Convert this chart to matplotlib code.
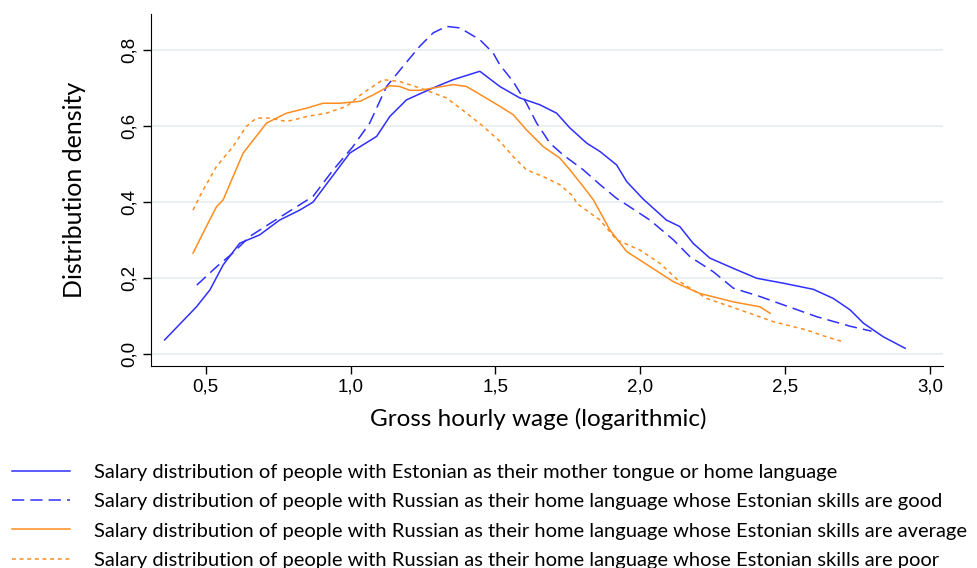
"""
Wage density curves by home language and Estonian skills
"""

import matplotlib
matplotlib.use("Agg")
from matplotlib import pyplot
from matplotlib.ticker import FuncFormatter

# Estonian as mother tongue / home language
estX = [0.358, 0.468, 0.514, 0.56, 0.617, 0.686, 0.755, 0.824, 0.87, 0.997, 1.09, 1.135,
        1.193, 1.284, 1.354, 1.446, 1.515, 1.584, 1.653, 1.711, 1.757, 1.815, 1.861, 1.918,
        1.953, 2.01, 2.09, 2.136, 2.182, 2.24, 2.321, 2.402, 2.494, 2.597, 2.666, 2.724,
        2.77, 2.839, 2.914]
estY = [0.038, 0.125, 0.169, 0.235, 0.292, 0.314, 0.353, 0.379, 0.40, 0.529, 0.573, 0.625,
        0.669, 0.70, 0.722, 0.744, 0.704, 0.674, 0.656, 0.634, 0.595, 0.555, 0.533, 0.498,
        0.454, 0.408, 0.353, 0.336, 0.292, 0.253, 0.226, 0.20, 0.187, 0.171, 0.147, 0.117,
        0.082, 0.046, 0.016]

# Russian home language, Estonian skills good
goodX = [0.469, 0.537, 0.593, 0.652, 0.732, 0.824, 0.87, 0.94, 1.008, 1.066, 1.124, 1.181,
         1.239, 1.285, 1.331, 1.377, 1.446, 1.492, 1.515, 1.561, 1.607, 1.642, 1.688, 1.734,
         1.803, 1.861, 1.918, 1.953, 2.033, 2.114, 2.171, 2.252, 2.321, 2.413, 2.494, 2.609,
         2.724, 2.798]
goodY = [0.182, 0.23, 0.266, 0.31, 0.349, 0.393, 0.415, 0.485, 0.546, 0.608, 0.704, 0.757,
         0.81, 0.845, 0.862, 0.858, 0.827, 0.792, 0.761, 0.717, 0.66, 0.608, 0.555, 0.524,
         0.485, 0.446, 0.41, 0.393, 0.353, 0.301, 0.257, 0.217, 0.174, 0.152, 0.13, 0.099,
         0.074, 0.061]

# Russian home language, Estonian skills average
avgX = [0.456, 0.502, 0.537, 0.56, 0.629, 0.71, 0.779, 0.848, 0.905, 0.963, 1.032, 1.078,
        1.135, 1.17, 1.204, 1.239, 1.285, 1.354, 1.4, 1.458, 1.515, 1.561, 1.607, 1.665,
        1.722, 1.757, 1.803, 1.838, 1.895, 1.953, 2.033, 2.114, 2.206, 2.321, 2.413, 2.448]
avgY = [0.266, 0.336, 0.388, 0.406, 0.529, 0.608, 0.634, 0.647, 0.66, 0.66, 0.665, 0.682,
        0.706, 0.704, 0.694, 0.694, 0.70, 0.709, 0.704, 0.678, 0.652, 0.63, 0.59, 0.546,
        0.516, 0.485, 0.441, 0.406, 0.327, 0.27, 0.231, 0.191, 0.16, 0.138, 0.125, 0.108]

# Russian home language, Estonian skills poor
poorX = [0.456, 0.479, 0.537, 0.594, 0.64, 0.675, 0.721, 0.779, 0.848, 0.917, 0.986, 1.043,
         1.112, 1.17, 1.239, 1.331, 1.4, 1.458, 1.515, 1.561, 1.607, 1.665, 1.722, 1.769,
         1.78, 1.861, 1.918, 1.999, 2.068, 2.136, 2.229, 2.344, 2.459, 2.574, 2.643, 2.70]
poorY = [0.379, 0.415, 0.494, 0.546, 0.599, 0.621, 0.621, 0.612, 0.625, 0.634, 0.652, 0.687,
         0.722, 0.717, 0.70, 0.674, 0.634, 0.599, 0.56, 0.52, 0.485, 0.467, 0.446, 0.415,
         0.397, 0.353, 0.301, 0.274, 0.239, 0.191, 0.147, 0.117, 0.086, 0.064, 0.046, 0.033]

labels = [
    "Salary distribution of people with Estonian as their mother tongue or home language",
    "Salary distribution of people with Russian as their home language whose Estonian skills are good",
    "Salary distribution of people with Russian as their home language whose Estonian skills are average",
    "Salary distribution of people with Russian as their home language whose Estonian skills are poor",
]
xTicks = [0.5, 1.0, 1.5, 2.0, 2.5, 3.0]
yTicks = [0.0, 0.2, 0.4, 0.6, 0.8]

BLUE = "#2f2fff"
ORANGE = "#ff8c1f"

figure = pyplot.figure(figsize=(9.77, 5.68), dpi=100)
axes = figure.add_axes([0.155, 0.356, 0.81, 0.62])

axes.plot(estX, estY, color=BLUE, lw=1.1, label=labels[0])
axes.plot(goodX, goodY, color=BLUE, lw=1.1, dashes=(8, 4), label=labels[1])
axes.plot(avgX, avgY, color=ORANGE, lw=1.1, label=labels[2])
axes.plot(poorX, poorY, color=ORANGE, lw=1.1, dashes=(2.5, 2.5), label=labels[3])

axes.set_xlim(0.3125, 3.044)
axes.set_ylim(-0.03, 0.8955)
axes.set_xticks(xTicks)
axes.set_yticks(yTicks)
comma = FuncFormatter(lambda v, p: f"{v:.1f}".replace(".", ","))
axes.xaxis.set_major_formatter(comma)
axes.yaxis.set_major_formatter(comma)
axes.tick_params(direction="out", length=6, width=1, labelsize=13.5)
for lab in axes.get_xticklabels() + axes.get_yticklabels():
    lab.set_fontfamily("Liberation Sans")
for lab in axes.get_yticklabels():
    lab.set_rotation(90)
    lab.set_va("center")
axes.grid(axis="y", color="#e6eef0", lw=1.2)
axes.set_axisbelow(True)
for side in ("top", "right"):
    axes.spines[side].set_visible(False)

axes.set_xlabel("Gross hourly wage (logarithmic)", fontsize=17.5, family="Lato")
axes.xaxis.set_label_coords((538 - 151.7) / 791.0, -0.12)
axes.set_ylabel("Distribution density", fontsize=18, family="Lato")
axes.yaxis.set_label_coords(-0.083, 0.5)

figure.legend(loc="upper left", bbox_to_anchor=(12 / 977, 0.183), frameon=False,
              borderpad=0, borderaxespad=0,
              handlelength=2.9, handletextpad=1.15, labelspacing=0.6,
              prop={"family": "Lato", "size": 14.5})

figure.savefig("out.png", dpi=100)
